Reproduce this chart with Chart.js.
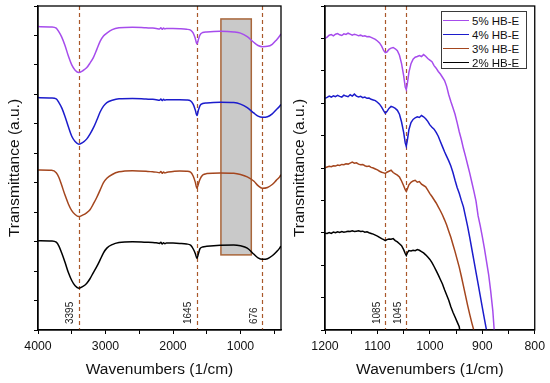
<!DOCTYPE html>
<html>
<head>
<meta charset="utf-8">
<script src="https://cdn.jsdelivr.net/npm/chart.js@4/dist/chart.umd.min.js"></script>
<style>
  html, body { margin:0; padding:0; background:#fff; }
  #wrap { position:relative; width:550px; height:383px; overflow:hidden; font-family:"Liberation Sans", Arial, sans-serif; }
  canvas { position:absolute; left:0; top:0; }
  #legend { position:absolute; left:441px; top:11px; width:86px; height:58px; border:1px solid #3a3a3a; background:#fff; box-sizing:border-box; }
  .lrow { position:absolute; left:0; height:14px; width:100%; }
  .lline { position:absolute; left:1px; top:6px; width:26px; height:0; border-top:1.6px solid #000; }
  .ltext { position:absolute; left:30px; top:0; font-size:11.5px; line-height:14px; color:#111; white-space:nowrap; }
</style>
</head>
<body>
<div id="wrap">
  <canvas id="c1" width="550" height="383"></canvas>
  <canvas id="c2" width="550" height="383"></canvas>
  <div id="legend"></div>
</div>
<script>
// ---------------- data ----------------
const seriesLabels = ['5% HB-E', '4% HB-E', '3% HB-E', '2% HB-E'];

// Left panel: full spectrum
const leftWn = [4000,3800,3730,3690,3650,3600,3550,3500,3450,3395,3340,3280,3230,3180,3130,3080,3030,2980,2900,2800,2600,2400,2300,2250,2200,2180,2160,2140,2120,2100,2000,1900,1800,1740,1700,1670,1645,1625,1600,1560,1500,1300,1100,1000,900,800,740,676,600,530,470,420,400];
const left5 = [10.30,10.29,10.25,10.12,9.95,9.66,9.30,9.00,8.82,8.74,8.80,8.90,9.06,9.25,9.52,9.80,9.98,10.08,10.20,10.26,10.28,10.26,10.25,10.24,10.22,10.26,10.21,10.25,10.22,10.24,10.24,10.23,10.21,10.18,10.08,9.90,9.71,9.85,10.02,10.10,10.12,10.14,10.12,10.08,9.96,9.76,9.66,9.62,9.63,9.70,9.84,9.98,10.05];
const left4 = [7.89,7.88,7.85,7.72,7.55,7.25,6.90,6.58,6.40,6.31,6.36,6.48,6.65,6.86,7.12,7.40,7.60,7.72,7.80,7.85,7.86,7.84,7.83,7.82,7.80,7.84,7.79,7.83,7.80,7.82,7.82,7.82,7.81,7.78,7.66,7.47,7.28,7.45,7.62,7.69,7.71,7.73,7.72,7.67,7.55,7.36,7.26,7.22,7.24,7.34,7.48,7.60,7.66];
const left3 = [5.43,5.42,5.34,5.18,4.92,4.58,4.28,4.05,3.92,3.85,3.90,3.98,4.08,4.28,4.50,4.75,5.00,5.15,5.28,5.37,5.41,5.39,5.37,5.36,5.34,5.38,5.32,5.36,5.33,5.35,5.38,5.40,5.39,5.36,5.22,5.02,4.81,4.95,5.12,5.26,5.31,5.33,5.32,5.28,5.20,5.05,4.90,4.81,4.84,4.94,5.08,5.20,5.27];
const left2 = [3.03,3.02,2.98,2.85,2.62,2.30,1.95,1.68,1.50,1.42,1.47,1.58,1.74,1.95,2.15,2.38,2.62,2.78,2.90,2.97,3.00,2.98,2.97,2.96,2.94,2.98,2.92,2.96,2.93,2.95,2.95,2.94,2.92,2.88,2.75,2.60,2.43,2.58,2.76,2.82,2.84,2.88,2.89,2.86,2.78,2.57,2.45,2.40,2.42,2.52,2.65,2.78,2.85];

// Right panel: 1200-800 region
const rightWn = [1200,1196,1192,1188,1184,1180,1176,1172,1168,1164,1160,1156,1152,1148,1144,1140,1136,1132,1128,1124,1120,1116,1112,1108,1104,1100,1096,1092,1088,1085,1082,1078,1074,1070,1066,1062,1058,1054,1050,1047,1045,1043,1040,1036,1032,1028,1024,1020,1016,1012,1008,1004,1000,996,992,988,984,980,976,972,968,964,960,956,952,948,944,940,936,932,928,924,920,916,912,908,904,900,896,892,888,884,880,876];
const right5 = [9.00,9.04,9.10,9.12,9.08,9.13,9.15,9.11,9.09,9.14,9.12,9.16,9.13,9.10,9.13,9.11,9.08,9.10,9.07,9.08,9.05,9.06,9.03,9.00,8.97,8.92,8.86,8.76,8.62,8.56,8.58,8.66,8.70,8.72,8.68,8.62,8.48,8.22,7.85,7.50,7.42,7.60,7.95,8.22,8.36,8.42,8.44,8.47,8.44,8.50,8.45,8.38,8.33,8.28,8.16,8.08,7.98,7.90,7.80,7.70,7.52,7.26,7.05,6.86,6.66,6.40,6.12,5.88,5.60,5.36,5.10,4.84,4.56,4.28,3.98,3.52,3.22,2.88,2.52,2.12,1.72,1.20,0.60,-0.30];
const right4 = [7.15,7.18,7.22,7.19,7.23,7.20,7.24,7.21,7.19,7.25,7.22,7.20,7.26,7.22,7.28,7.22,7.19,7.21,7.17,7.19,7.15,7.16,7.12,7.10,7.08,7.03,6.97,6.88,6.76,6.69,6.74,6.84,6.90,6.88,6.84,6.78,6.66,6.42,6.10,5.78,5.67,5.85,6.18,6.40,6.50,6.55,6.58,6.56,6.62,6.58,6.52,6.44,6.33,6.26,6.20,6.10,5.98,5.82,5.66,5.50,5.36,5.22,5.06,4.86,4.62,4.40,4.22,4.00,3.80,3.50,3.20,2.86,2.50,2.14,1.78,1.42,1.06,0.70,0.34,0.00,-0.50,null,null,null];
const right3 = [5.01,5.03,5.05,5.04,5.07,5.06,5.09,5.08,5.11,5.10,5.13,5.12,5.15,5.18,5.15,5.16,5.12,5.10,5.11,5.07,5.05,5.06,5.02,5.00,4.97,4.94,4.90,4.87,4.85,4.83,4.87,4.90,4.93,4.86,4.82,4.78,4.72,4.60,4.45,4.33,4.28,4.35,4.48,4.56,4.60,4.62,4.56,4.58,4.50,4.46,4.42,4.32,4.21,4.12,4.02,3.92,3.80,3.68,3.55,3.40,3.24,3.05,2.86,2.64,2.42,2.18,1.94,1.66,1.36,1.06,0.76,0.48,0.22,-0.02,-0.50,null,null,null,null,null,null,null,null,null];
const right2 = [2.99,2.98,3.01,2.98,3.02,3.00,3.03,3.01,3.04,3.02,3.03,3.05,3.04,3.06,3.04,3.05,3.06,3.04,3.05,3.02,3.03,3.00,2.98,2.96,2.93,2.90,2.86,2.82,2.79,2.76,2.79,2.81,2.80,2.82,2.76,2.72,2.66,2.60,2.48,2.36,2.30,2.38,2.45,2.44,2.46,2.45,2.48,2.46,2.42,2.38,2.32,2.25,2.18,2.08,1.96,1.83,1.70,1.56,1.42,1.24,1.08,0.92,0.72,0.55,0.40,0.25,0.10,-0.30,null,null,null,null,null,null,null,null,null,null,null,null,null,null,null,null];

// Axis ticks & annotations
const leftXTicks = [4000,3500,3000,2500,2000,1500,1000,500];
const leftXLabels = [4000,3000,2000,1000];
const rightXTicks = [1200,1150,1100,1050,1000,950,900,850,800];
const rightXLabels = [1200,1100,1000,900,800];
const leftPeaks = [3395, 1645, 676];
const rightPeaks = [1085, 1045];
const shadeBand = [1290, 840];
const shadeLevels = [2.55, 10.56];

// ---------------- styles ----------------
const seriesColors = ['#a64cec', '#1c1ccc', '#a4461e', '#000000'];
const FONT = '"Liberation Sans", Arial, sans-serif';
const dashColor = '#a9582a';

function toPts(xs, ys) { return xs.map((x, i) => ({x: x, y: ys[i]})); }

function makeDatasets(xs, arrs, smooth) {
  return arrs.map((ys, i) => ({
    label: seriesLabels[i],
    data: toPts(xs, ys),
    borderColor: seriesColors[i],
    backgroundColor: seriesColors[i],
    borderWidth: 1.5,
    pointRadius: 0,
    tension: smooth ? 0.4 : 0,
    cubicInterpolationMode: smooth ? 'monotone' : 'default',
    spanGaps: false,
    fill: false
  }));
}

const annot = {
  id: 'annot',
  beforeDatasetsDraw(chart, args, opts) {
    const {ctx, chartArea: ca, scales: {x, y}} = chart;
    ctx.save();
    ctx.beginPath(); ctx.rect(ca.left, ca.top, ca.right - ca.left, ca.bottom - ca.top); ctx.clip();
    if (opts.band) {
      const x1 = x.getPixelForValue(opts.band[0]), x2 = x.getPixelForValue(opts.band[1]);
      const y1 = y.getPixelForValue(opts.levels[1]), y2 = y.getPixelForValue(opts.levels[0]);
      ctx.fillStyle = '#c9c9c9';
      ctx.fillRect(x1, y1, x2 - x1, y2 - y1);
      ctx.strokeStyle = '#a9663a';
      ctx.lineWidth = 1.5;
      ctx.strokeRect(x1, y1, x2 - x1, y2 - y1);
    }
    ctx.strokeStyle = dashColor;
    ctx.lineWidth = 1.2;
    ctx.setLineDash([4, 3]);
    opts.peaks.forEach(p => {
      const px = Math.round(x.getPixelForValue(p)) + 0.5;
      ctx.beginPath(); ctx.moveTo(px, ca.top); ctx.lineTo(px, ca.bottom); ctx.stroke();
    });
    ctx.restore();
  },
  afterDraw(chart, args, opts) {
    const {ctx, chartArea: ca, scales: {x}} = chart;
    ctx.save();
    ctx.strokeStyle = '#000';
    ctx.lineWidth = 1.3;
    ctx.strokeRect(ca.left, ca.top, ca.right - ca.left, ca.bottom - ca.top);
    ctx.fillStyle = '#222';
    ctx.font = '10px ' + FONT;
    ctx.textAlign = 'left';
    ctx.textBaseline = 'middle';
    opts.peaks.forEach(p => {
      const px = x.getPixelForValue(p);
      ctx.save();
      ctx.translate(px - 8.5, ca.bottom - 6);
      ctx.rotate(-Math.PI / 2);
      ctx.fillText(String(p), 0, 0);
      ctx.restore();
    });
    ctx.restore();
  }
};

function makeChart(id, cfg) {
  return new Chart(document.getElementById(id), {
    type: 'line',
    data: { datasets: cfg.datasets },
    plugins: [annot],
    options: {
      responsive: false,
      animation: false,
      devicePixelRatio: 1,
      layout: { padding: cfg.padding },
      plugins: {
        legend: { display: false },
        tooltip: { enabled: false },
        annot: { peaks: cfg.peaks, band: cfg.band, levels: cfg.levels }
      },
      scales: {
        x: {
          type: 'linear', reverse: true, min: cfg.xmin, max: cfg.xmax,
          afterBuildTicks: s => { s.ticks = cfg.xticks.map(v => ({value: v})); },
          afterFit: s => { s.height = 53; },
          ticks: {
            autoSkip: false, maxRotation: 0, padding: 5,
            color: '#111', font: {family: FONT, size: 12.3},
            callback: v => cfg.xlabels.includes(v) ? String(v) : ''
          },
          grid: { drawOnChartArea: false, drawTicks: true, tickLength: 4, color: '#000', tickWidth: 1 },
          border: { color: '#000', width: 1.3 },
          title: { display: true, text: 'Wavenumbers (1/cm)', color: '#111', font: {family: FONT, size: 15.5}, padding: {top: 0, bottom: 3.5} }
        },
        y: {
          type: 'linear', min: 0, max: cfg.ymax,
          afterFit: s => { s.width = cfg.ywidth; },
          ticks: { stepSize: 1, callback: () => '', font: {size: 1} },
          grid: { drawOnChartArea: false, drawTicks: true, tickLength: 4, color: '#000', tickWidth: 1 },
          border: { color: '#000', width: 1.3 },
          title: { display: true, text: 'Transmittance (a.u.)', color: '#111', font: {family: FONT, size: 15.5}, padding: {top: 5, bottom: 0} }
        }
      }
    }
  });
}

makeChart('c1', {
  datasets: makeDatasets(leftWn, [left5, left4, left3, left2], true),
  padding: {left: 0, top: 6, right: 269, bottom: 0},
  xmin: 400, xmax: 4000, xticks: leftXTicks, xlabels: leftXLabels,
  ymax: 11, ywidth: 38, peaks: leftPeaks, band: shadeBand, levels: shadeLevels
});

makeChart('c2', {
  datasets: makeDatasets(rightWn, [right5, right4, right3, right2], false),
  padding: {left: 285, top: 6, right: 15, bottom: 0},
  xmin: 800, xmax: 1200, xticks: rightXTicks, xlabels: rightXLabels,
  ymax: 10, ywidth: 40, peaks: rightPeaks, band: null, levels: null
});

// legend
const leg = document.getElementById('legend');
seriesLabels.forEach((lab, i) => {
  const row = document.createElement('div');
  row.className = 'lrow';
  row.style.top = (1.5 + i * 14.3) + 'px';
  const ln = document.createElement('div');
  ln.className = 'lline';
  ln.style.borderTopColor = seriesColors[i];
  const tx = document.createElement('div');
  tx.className = 'ltext';
  tx.textContent = lab;
  row.appendChild(ln); row.appendChild(tx);
  leg.appendChild(row);
});
</script>
</body>
</html>
